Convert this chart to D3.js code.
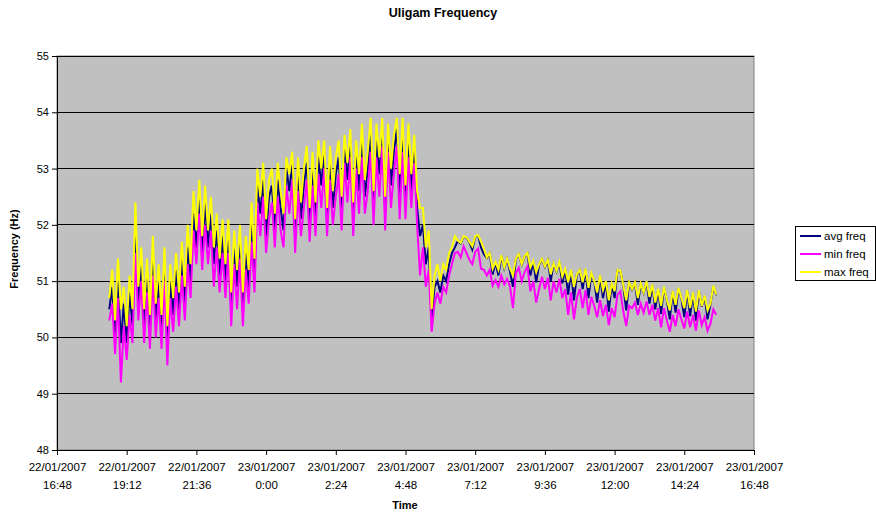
<!DOCTYPE html>
<html><head><meta charset="utf-8">
<script src="https://cdn.jsdelivr.net/npm/d3@7"></script>
<style>body{margin:0;background:#fff;}svg{font-family:Arial,"Liberation Sans",sans-serif;}</style>
</head><body>
<svg id="c" width="876" height="514"></svg>
<script>
const seriesNames = ["avg freq", "min freq", "max freq"];
const seriesColors = ["#000080", "#FF00FF", "#FFFF00"];
const startTime = "2007-01-22T18:36:00";
const stepMinutes = 6;
const yTicks = [48, 49, 50, 51, 52, 53, 54, 55];
const xTickDates = ["22/01/2007","22/01/2007","22/01/2007","23/01/2007","23/01/2007","23/01/2007","23/01/2007","23/01/2007","23/01/2007","23/01/2007","23/01/2007"];
const xTickTimes = ["16:48","19:12","21:36","0:00","2:24","4:48","7:12","9:36","12:00","14:24","16:48"];

const avgFreq = [
50.5,50.9,50.0,51.0,49.9,50.6,49.9,50.8,50.2,51.8,
50.6,51.3,50.2,51.1,50.1,51.4,50.3,51.0,50.1,51.3,
49.9,51.0,50.4,51.2,50.5,51.4,50.6,51.6,51.0,52.2,
51.6,52.5,51.5,52.4,51.6,52.2,51.3,51.9,51.1,51.8,
51.0,51.8,50.5,51.6,50.9,51.7,50.5,51.5,50.9,52.0,
51.1,52.7,52.2,52.8,51.8,52.5,52.7,51.9,52.8,52.3,
51.9,53.0,52.6,53.1,51.8,52.9,52.1,52.7,53.1,52.0,
53.0,52.1,53.2,52.7,53.3,52.0,53.1,52.3,52.9,53.2,
52.2,53.4,52.8,53.5,52.1,53.3,52.6,53.5,52.5,53.0,
53.6,52.3,53.5,52.9,53.7,52.2,53.6,52.7,53.3,53.7,
52.5,53.6,52.4,53.5,52.6,53.4,52.3,51.8,52.0,51.3,
51.6,50.3,50.9,51.0,50.8,51.1,51.0,51.3,51.5,51.6,
51.71,51.67,51.79,51.77,51.69,51.56,51.79,51.81,51.60,51.48,
51.41,51.49,51.12,51.33,51.10,51.45,51.23,51.39,51.16,50.90,
51.39,51.47,51.29,51.43,51.49,51.10,51.35,50.98,51.29,51.39,
51.25,51.37,51.00,51.31,51.17,51.33,50.96,51.21,50.76,51.19,
50.66,51.11,51.19,50.86,51.21,50.70,51.13,50.99,50.62,51.09,
50.70,50.99,50.46,50.95,50.70,51.19,51.17,50.91,50.48,50.97,
50.85,50.97,50.58,50.95,50.79,50.99,50.60,50.93,50.50,50.85,
50.42,50.89,50.65,50.32,50.81,50.44,50.87,50.69,50.36,50.83,
50.38,50.79,50.30,50.83,50.55,50.73,50.32,50.59,50.91,50.75];

const minFreq = [
50.3,50.6,49.7,50.7,49.2,50.2,49.6,50.4,49.9,51.5,
50.3,51.0,49.9,50.8,49.8,51.1,50.0,50.7,49.8,51.0,
49.5,50.7,50.1,50.9,50.2,51.1,50.3,51.3,50.7,51.9,
51.3,52.2,51.2,52.0,51.3,51.9,50.9,51.6,50.8,51.5,
50.7,51.5,50.2,51.3,50.5,51.4,50.2,51.2,50.6,51.7,
50.8,52.4,51.8,52.5,51.5,52.1,52.4,51.6,52.5,51.9,
51.6,52.7,52.2,52.8,51.5,52.6,51.8,52.3,52.8,51.7,
52.7,51.8,52.9,52.3,53.0,51.8,52.8,52.0,52.5,52.9,
51.9,53.1,52.4,53.2,51.8,53.0,52.2,53.2,52.2,52.6,
53.3,52.0,53.2,52.5,53.4,51.9,53.3,52.3,52.9,53.4,
52.1,53.3,52.1,53.2,52.3,53.1,52.0,51.1,51.6,50.9,
51.2,50.1,50.6,50.8,50.6,50.9,50.8,51.1,51.3,51.5,
51.52,51.42,51.62,51.50,51.38,51.30,51.52,51.58,51.22,51.20,
51.10,51.20,50.92,51.02,50.90,51.10,50.94,51.04,50.90,50.52,
51.14,51.24,51.00,51.16,51.26,50.82,51.00,50.62,50.86,51.08,
50.86,51.06,50.66,51.00,50.80,51.04,50.70,50.86,50.40,50.80,
50.32,50.70,50.86,50.52,50.84,50.40,50.72,50.56,50.36,50.66,
50.38,50.58,50.22,50.52,50.36,50.76,50.82,50.46,50.20,50.56,
50.52,50.62,50.40,50.60,50.44,50.64,50.40,50.58,50.30,50.52,
50.18,50.52,50.30,50.10,50.40,50.20,50.50,50.32,50.16,50.46,
50.18,50.40,50.12,50.48,50.22,50.36,50.12,50.24,50.50,50.40];

const maxFreq = [
50.7,51.2,50.3,51.4,50.5,50.9,50.2,51.1,50.5,52.4,
50.9,51.6,50.5,51.4,50.4,51.8,50.6,51.3,50.4,51.6,
50.2,51.3,50.7,51.5,50.8,51.7,50.9,52.0,51.3,52.6,
51.9,52.8,51.8,52.7,51.9,52.5,51.6,52.2,51.4,52.1,
51.3,52.1,50.8,51.9,51.2,52.0,50.8,51.8,51.2,52.4,
51.4,53.0,52.5,53.1,52.1,52.8,53.0,52.2,53.1,52.6,
52.2,53.2,52.9,53.3,52.1,53.2,52.4,53.0,53.4,52.3,
53.3,52.4,53.5,53.0,53.5,52.3,53.4,52.6,53.2,53.5,
52.5,53.6,53.1,53.7,52.4,53.5,52.9,53.8,52.8,53.3,
53.9,52.6,53.8,53.2,53.9,52.5,53.8,53.0,53.6,53.9,
52.9,53.9,52.7,53.8,52.9,53.6,52.6,52.3,52.3,51.6,
51.9,50.5,51.1,51.3,51.0,51.3,51.2,51.5,51.6,51.8,
51.72,51.68,51.80,51.78,51.70,51.62,51.80,51.82,51.70,51.58,
51.42,51.50,51.22,51.34,51.20,51.46,51.24,51.40,51.22,51.10,
51.40,51.48,51.30,51.44,51.50,51.24,51.36,51.16,51.30,51.40,
51.26,51.38,51.12,51.32,51.18,51.34,51.08,51.22,50.98,51.20,
50.90,51.12,51.20,50.98,51.22,50.88,51.14,51.00,50.80,51.10,
50.84,51.00,50.66,50.96,50.82,51.20,51.18,50.92,50.66,50.98,
50.86,50.98,50.70,50.96,50.80,51.00,50.72,50.94,50.62,50.86,
50.56,50.90,50.66,50.48,50.82,50.58,50.88,50.70,50.52,50.84,
50.52,50.80,50.46,50.84,50.56,50.74,50.48,50.60,50.92,50.76];

const svg = d3.select("#c");
const L = 57, R = 754, T = 56, B = 450;
const t0 = new Date("2007-01-22T16:48:00");
const t1 = new Date("2007-01-23T16:48:00");
const x = d3.scaleTime().domain([t0, t1]).range([L, R]);
const y = d3.scaleLinear().domain([48, 55]).range([B, T]);
const start = new Date(startTime);
const timeAt = i => new Date(start.getTime() + i * stepMinutes * 60000);

svg.append("rect").attr("x", L).attr("y", T).attr("width", R - L).attr("height", B - T)
  .attr("fill", "#C0C0C0").attr("stroke", "#808080").attr("stroke-width", 1);

svg.append("g").selectAll("line").data(yTicks.slice(1)).join("line")
  .attr("x1", L).attr("x2", R).attr("y1", d => y(d)).attr("y2", d => y(d))
  .attr("stroke", "#000").attr("stroke-width", 1).attr("shape-rendering", "crispEdges");

const yAxis = d3.axisLeft(y).tickValues(yTicks).tickSize(5).tickPadding(3).tickFormat(d3.format("d"));
const gy = svg.append("g").attr("transform", `translate(${L},0)`).call(yAxis);
gy.selectAll("text").attr("font-size", 11).attr("fill", "#000");
gy.select(".domain").attr("stroke", "#000");
gy.selectAll(".tick line").attr("stroke", "#000");

const xTickVals = xTickTimes.map((_, i) => new Date(t0.getTime() + i * 144 * 60000));
const xAxis = d3.axisBottom(x).tickValues(xTickVals).tickSize(5).tickFormat("");
const gx = svg.append("g").attr("transform", `translate(0,${B})`).call(xAxis);
gx.select(".domain").attr("stroke", "#000");
gx.selectAll(".tick line").attr("stroke", "#000");
gx.selectAll(".tick").each(function(d, i) {
  const g = d3.select(this);
  g.append("text").attr("y", 21).attr("text-anchor", "middle").attr("font-size", 11.5).attr("fill", "#000").text(xTickDates[i]);
  g.append("text").attr("y", 39).attr("text-anchor", "middle").attr("font-size", 11.5).attr("fill", "#000").text(xTickTimes[i]);
});

const data = [avgFreq, minFreq, maxFreq];
const line = d3.line().x((d, i) => x(timeAt(i))).y(d => y(d));
data.forEach((arr, k) => {
  svg.append("path").datum(arr).attr("d", line).attr("fill", "none")
    .attr("stroke", seriesColors[k]).attr("stroke-width", 2).attr("stroke-linejoin", "miter");
});

svg.append("text").attr("x", 443).attr("y", 17).attr("text-anchor", "middle")
  .attr("font-size", 12.5).attr("font-weight", "bold").text("Uligam Frequency");
svg.append("text").attr("transform", "translate(18,249) rotate(-90)").attr("text-anchor", "middle")
  .attr("font-size", 11).attr("font-weight", "bold").text("Frequency (Hz)");
svg.append("text").attr("x", 405).attr("y", 509).attr("text-anchor", "middle")
  .attr("font-size", 11).attr("font-weight", "bold").text("Time");

const lg = svg.append("g");
lg.append("rect").attr("x", 795.5).attr("y", 226.5).attr("width", 80).attr("height", 54)
  .attr("fill", "#fff").attr("stroke", "#000").attr("stroke-width", 1);
seriesNames.forEach((n, k) => {
  const yy = 236 + k * 18;
  lg.append("line").attr("x1", 800).attr("x2", 821).attr("y1", yy).attr("y2", yy)
    .attr("stroke", seriesColors[k]).attr("stroke-width", 2);
  lg.append("text").attr("x", 824).attr("y", yy + 4).attr("font-size", 11.5).text(n);
});
</script>
</body></html>
